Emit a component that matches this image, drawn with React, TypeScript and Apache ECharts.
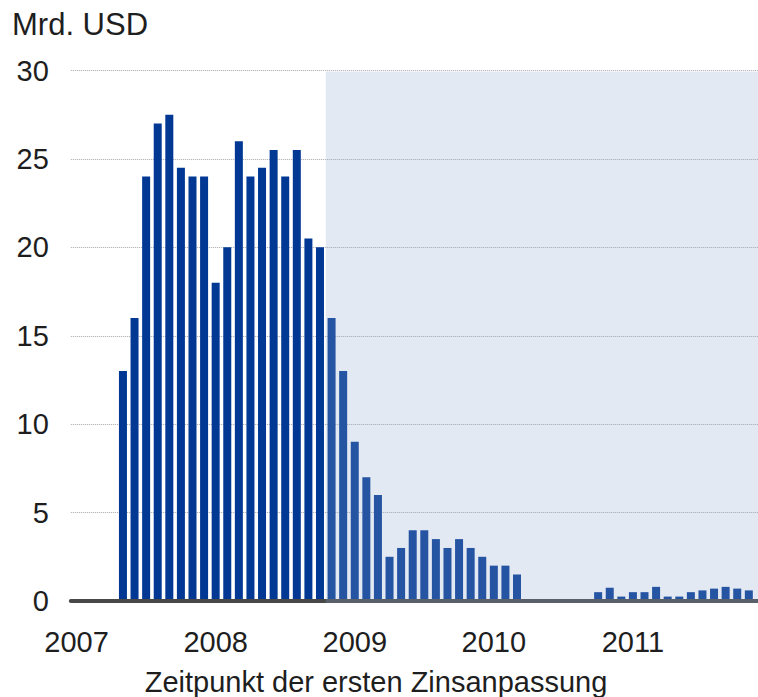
import React, { useEffect, useRef } from 'react';
import * as echarts from 'echarts';

// ---- data ----
const YEARS = ['2007', '2008', '2009', '2010', '2011'];
const MONTHS = ['01', '02', '03', '04', '05', '06', '07', '08', '09', '10', '11', '12'];
const LEAD_EMPTY: (number | null)[] = [null, null, null, null]; // Jan–Apr 2007
const RESETS_PAST = [13, 16, 24, 27, 27.5, 24.5, 24, 24, 18, 20, 26, 24, 24.5, 25.5, 24, 25.5, 20.5, 20]; // May 2007 – Oct 2008
const RESETS_FUTURE = [16, 13, 9, 7, 6, 2.5, 3, 4, 4, 3.5, 3, 3.5, 3, 2.5, 2, 2, 1.5]; // Nov 2008 – Mar 2010
const RESETS_GAP = [0, 0, 0, 0, 0, 0]; // Apr – Sep 2010
const RESETS_LATE = [0.5, 0.75, 0.25, 0.5, 0.5, 0.8, 0.25, 0.25, 0.5, 0.6, 0.7, 0.8, 0.7, 0.6]; // Oct 2010 – Nov 2011
const TAIL_EMPTY: (number | null)[] = [null]; // Dec 2011
const SHADE_START = '2008-11';
const Y_MIN = 0;
const Y_MAX = 30;
const Y_STEP = 5;
const Y_UNIT = 'Mrd. USD';
const X_TITLE = 'Zeitpunkt der ersten Zinsanpassung';

const CATEGORIES = YEARS.flatMap((y) => MONTHS.map((m) => `${y}-${m}`));
const VALUES = [...LEAD_EMPTY, ...RESETS_PAST, ...RESETS_FUTURE, ...RESETS_GAP, ...RESETS_LATE, ...TAIL_EMPTY];

const FONT = '"Liberation Sans", Arial, Helvetica, sans-serif';
const TEXT_COLOR = '#1e1e1e';

export default function App() {
  const ref = useRef<HTMLDivElement>(null);

  useEffect(() => {
    if (!ref.current) return;
    const chart = echarts.init(ref.current, undefined, { renderer: 'svg' });
    chart.setOption({
      animation: false,
      textStyle: { fontFamily: FONT },
      grid: {
        left: 70.8,
        width: 695.4,
        top: 70.5,
        bottom: 96,
        containLabel: false,
        outerBoundsMode: 'none',
      },
      xAxis: {
        type: 'category',
        data: CATEGORIES,
        boundaryGap: true,
        z: 3,
        axisLine: { show: true, lineStyle: { color: '#484848', width: 4 } },
        axisTick: { show: false },
        splitLine: { show: false },
        axisLabel: {
          interval: (_i: number, v: string) => v.endsWith('-01'),
          formatter: (v: string) => v.slice(0, 4),
          fontSize: 29,
          color: TEXT_COLOR,
          fontFamily: FONT,
          margin: 26,
        },
      },
      yAxis: {
        type: 'value',
        min: Y_MIN,
        max: Y_MAX,
        interval: Y_STEP,
        axisLine: { show: false },
        axisTick: { show: false },
        axisLabel: { fontSize: 29, color: TEXT_COLOR, fontFamily: FONT, margin: 22 },
        splitLine: { show: true, lineStyle: { type: [1, 1], color: '#a8a8a8', width: 1 } },
      },
      series: [
        {
          type: 'bar',
          data: VALUES,
          barWidth: 8,
          itemStyle: { color: '#003893' },
        },
      ],
      graphic: [
        {
          type: 'text',
          left: 12,
          top: 9,
          style: { text: Y_UNIT, fontSize: 31, fill: TEXT_COLOR, fontFamily: FONT },
        },
        {
          type: 'text',
          x: 376,
          y: 682,
          style: {
            text: X_TITLE,
            fontSize: 29,
            fill: TEXT_COLOR,
            fontFamily: FONT,
            align: 'center',
            verticalAlign: 'middle',
          },
        },
      ],
    });

    // shaded (forecast) region computed from the library's own scales
    const idx = CATEGORIES.indexOf(SHADE_START);
    const cx = chart.convertToPixel({ xAxisIndex: 0 }, CATEGORIES[idx]) as number;
    const cxNext = chart.convertToPixel({ xAxisIndex: 0 }, CATEGORIES[idx + 1]) as number;
    const band = cxNext - cx;
    const xLeft = cx - band / 2;
    const lastX = chart.convertToPixel({ xAxisIndex: 0 }, CATEGORIES[CATEGORIES.length - 1]) as number;
    const xRight = lastX + band / 2;
    const yTop = chart.convertToPixel({ yAxisIndex: 0 }, Y_MAX) as number;
    const yBase = chart.convertToPixel({ yAxisIndex: 0 }, Y_MIN) as number;
    chart.setOption({
      graphic: [
        {
          id: 'shade',
          type: 'rect',
          z: 10,
          silent: true,
          shape: { x: xLeft, y: yTop + 1, width: xRight - xLeft, height: yBase + 2 - (yTop + 1) },
          style: { fill: 'rgba(143,167,207,0.25)' },
        },
      ],
    });

    return () => chart.dispose();
  }, []);

  return <div ref={ref} style={{ position: 'absolute', left: 0, top: 0, width: 758, height: 697 }} />;
}
